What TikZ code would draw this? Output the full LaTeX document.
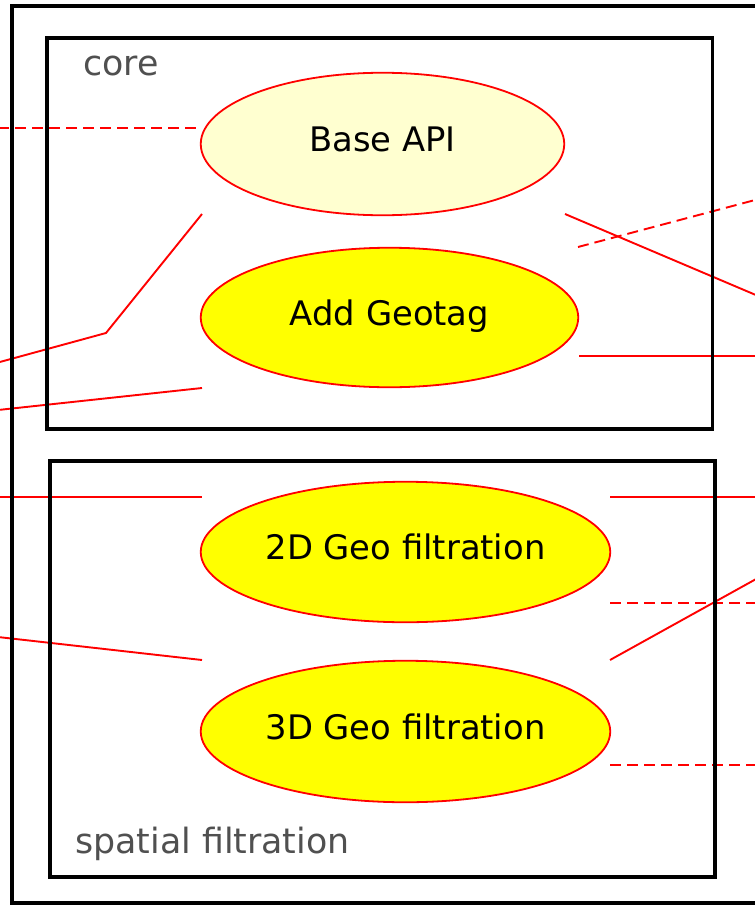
\documentclass[tikz,border=0pt]{standalone}
\usepackage{fontspec}
\setmainfont{DejaVu Sans}
\usetikzlibrary{shapes.geometric}
\definecolor{paleyellow}{RGB}{255,255,208}
\definecolor{ucyellow}{RGB}{255,255,0}
\definecolor{ucred}{RGB}{255,0,0}
\definecolor{labelgray}{RGB}{80,80,80}
\begin{document}
\begin{tikzpicture}[x=1pt,y=-1pt,
  usecase/.style={ellipse, draw=ucred, line width=1.8pt, inner sep=0pt,
    font=\fontsize{33.8}{40}\selectfont, text height=24pt, text depth=9pt},
  boxframe/.style={draw=black, line width=3.2pt},
  conn/.style={draw=ucred, line width=1.9pt},
  dconn/.style={conn, dash pattern=on 11pt off 6pt},
  pkglabel/.style={text=labelgray, font=\fontsize{34.8}{42}\selectfont, inner sep=0pt, anchor=base west}]
\useasboundingbox (0,0) rectangle (755,905);
\clip (0,0) rectangle (755,905);
\fill[white] (0,0) rectangle (755,905);

% connector end points
\coordinate (l1) at (-2,128);   \coordinate (e1) at (200,128);
\coordinate (l2) at (-2,362.5); \coordinate (k2) at (106,333); \coordinate (e2) at (202,214);
\coordinate (l3) at (-2,410);   \coordinate (e3) at (202,388);
\coordinate (e4) at (565,214);  \coordinate (r4) at (757,295.5);
\coordinate (e5) at (578,247);  \coordinate (r5) at (757,199.5);
\coordinate (e6) at (579,356);  \coordinate (r6) at (757,356);
\coordinate (l7) at (-2,497);   \coordinate (e7) at (202,497);
\coordinate (l8) at (-2,637);   \coordinate (e8) at (202,660);
\coordinate (e9) at (610,497);  \coordinate (r9) at (757,497);
\coordinate (e10) at (610,603); \coordinate (r10) at (757,603);
\coordinate (e11) at (610,660); \coordinate (r11) at (757,578.5);
\coordinate (e12) at (610,765); \coordinate (r12) at (757,765);

\draw[dconn] (l1) -- (e1);
\draw[conn] (l2) -- (k2) -- (e2);
\draw[conn] (l3) -- (e3);
\draw[conn] (e4) -- (r4);
\draw[dconn] (e5) -- (r5);
\draw[conn] (e6) -- (r6);
\draw[conn] (l7) -- (e7);
\draw[conn] (l8) -- (e8);
\draw[conn] (e9) -- (r9);
\draw[dconn] (e10) -- (r10);
\draw[conn] (e11) -- (r11);
\draw[dconn] (e12) -- (r12);

% frames
\draw[boxframe] (12,6) rectangle (790,903);
\draw[boxframe] (47,38) rectangle (712.5,429);
\draw[boxframe] (50,461) rectangle (715,877);

\node[pkglabel] (core) at (83,75) {core};
\node[pkglabel] (spatial) at (75,853) {spatial filtration};

% use cases
\node[usecase, fill=paleyellow, minimum width=363.5pt, minimum height=142.5pt] (base) at (382.5,144) {Base API};
\node[usecase, fill=ucyellow, minimum width=377.5pt, minimum height=139.5pt] (geotag) at (389.5,317.5) {Add Geotag};
\node[usecase, fill=ucyellow, minimum width=409.5pt, minimum height=140.5pt] (twod) at (405.5,552) {2D Geo filtration};
\node[usecase, fill=ucyellow, minimum width=409.5pt, minimum height=141.5pt] (threed) at (405.5,731.5) {3D Geo filtration};
\end{tikzpicture}
\end{document}
